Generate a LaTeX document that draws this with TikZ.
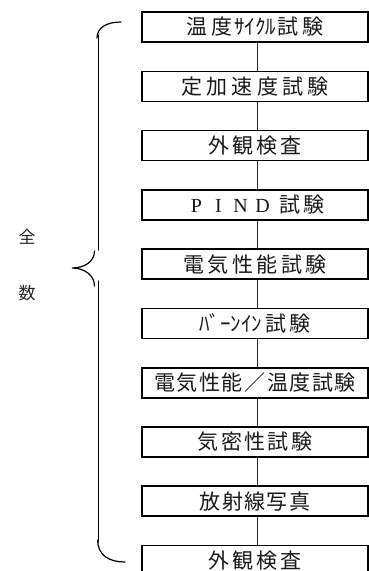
\documentclass[tikz,border=0pt]{standalone}
\usepackage{fontspec}
\newfontfamily\jp{Noto Sans CJK JP}
\newfontfamily\lat{Liberation Serif}
\makeatletter
\newcommand\spc[2]{\def\spc@sep{\hspace{#1}}\@tfor\spc@c:=#2\do{\spc@c\spc@sep}\unskip}
\makeatother
\begin{document}
\begin{tikzpicture}[x=1pt,y=-1pt,
  box/.style={draw, line width=1.6pt, minimum width=226pt, minimum height=30pt, inner sep=0pt, font=\jp\fontsize{21}{21}\selectfont, text=black!90},
  link/.style={line width=1pt, draw=black!85},
  brace/.style={line width=1.2pt, line cap=round},
  lbl/.style={inner sep=0pt, font=\jp\fontsize{17}{17}\selectfont, text=black!85}]
\useasboundingbox (0,0) rectangle (369,571);
\node[box] (b1) at (255,27) {温\hspace{4pt}度\hspace{2pt}ｻｲｸﾙ\hspace{1pt}試\hspace{4pt}験};
\node[box] (b2) at (255,86.3) {\spc{4.2pt}{定加速度試験}};
\node[box] (b3) at (255,145.6) {\spc{3pt}{外観検査}};
\node[box] (b4) at (255,204.8) {{\lat\fontsize{20}{20}\selectfont\makebox[22pt]{P}\makebox[22pt]{I}\makebox[22pt]{N}\makebox[22pt]{D}}\hspace{6pt}\spc{3pt}{試験}};
\node[box] (b5) at (255,264.1) {\spc{3.6pt}{電気性能試験}};
\node[box] (b6) at (255,323.4) {ﾊﾞｰﾝｲﾝ\hspace{4pt}試\hspace{3pt}験};
\node[box] (b7) at (255,382.7) {\spc{1.6pt}{電気性能／温度試験}};
\node[box] (b8) at (255,442) {\spc{2.3pt}{気密性試験}};
\node[box] (b9) at (255,501.2) {\spc{1.3pt}{放射線写真}};
\node[box] (b10) at (255,560.5) {\spc{2.7pt}{外観検査}};
\coordinate (cx) at (257,0);
\foreach \a/\b in {b1/b2,b2/b3,b3/b4,b4/b5,b5/b6,b6/b7,b7/b8,b8/b9,b9/b10}
  \draw[link] (\a.south -| cx) -- (\b.north -| cx);
% brace
\draw[brace] (121,22) .. controls (106,22) and (97,28) .. (97,38);
\draw[brace] (98.7,35) -- (98.7,250);
\draw[brace] (94.5,251) .. controls (94.5,262) and (84,268) .. (72,268) .. controls (84,268) and (94.5,275) .. (94.5,286);
\draw[brace] (98.3,281) -- (98.3,542);
\draw[brace] (97.7,540) .. controls (97.7,556) and (110,562) .. (125,562);
\node[lbl] (q) at (27,237) {全};
\node[lbl] (s) at (27,293) {数};
\end{tikzpicture}
\end{document}
